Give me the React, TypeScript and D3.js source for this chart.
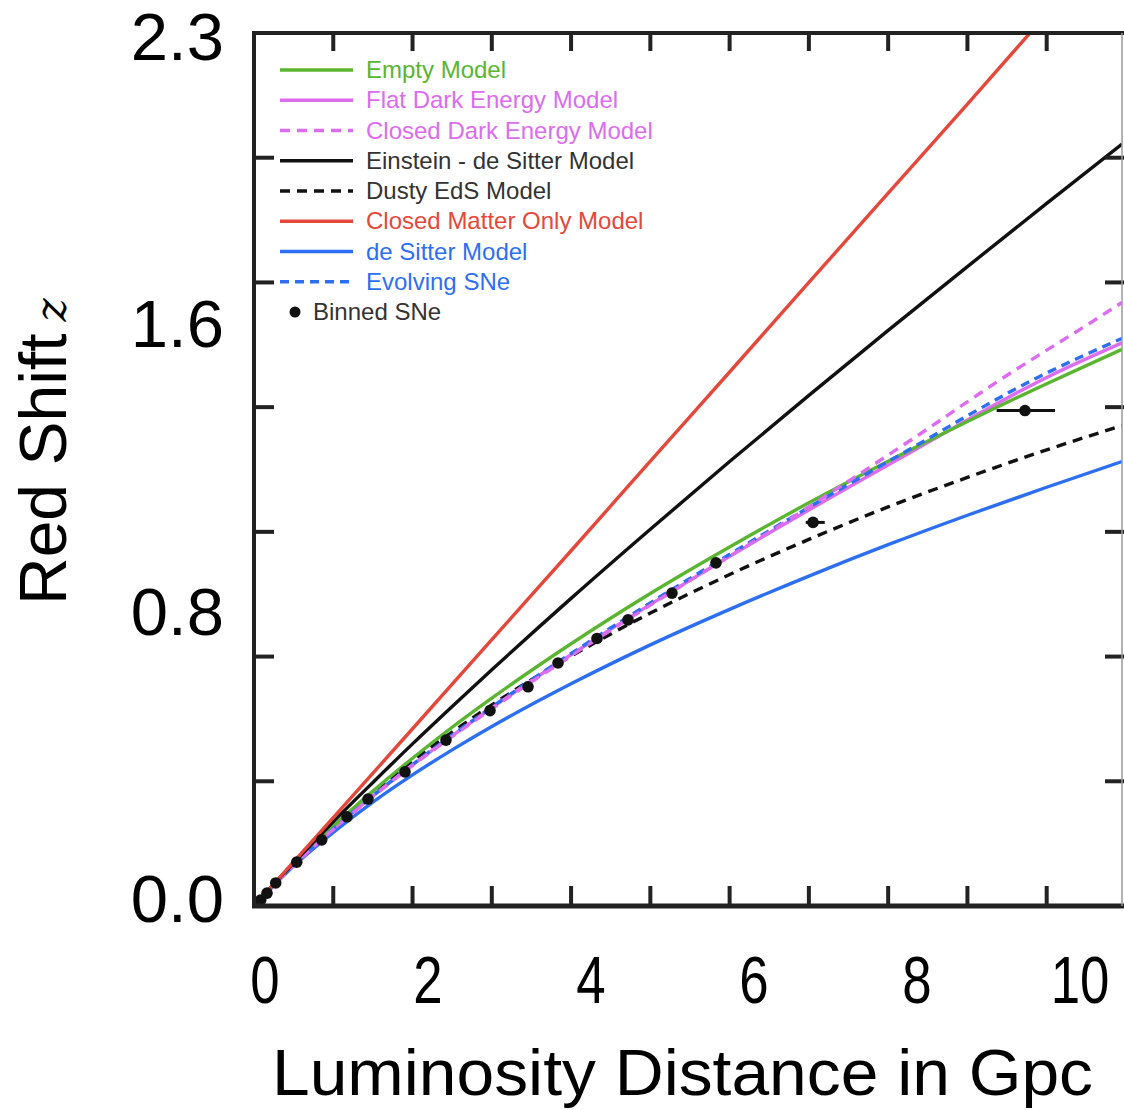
import React from "react";
import * as d3 from "d3";

// ---- data ----
// [luminosity distance in Gpc, red shift z]
const emptyModel: [number, number][] = [
  [0, 0], [0.5, 0.111], [1, 0.211], [1.5, 0.304], [2, 0.391], [2.5, 0.473], [3, 0.55],
  [4, 0.694], [5, 0.827], [6, 0.95], [7, 1.067], [8, 1.177], [9, 1.282], [10, 1.382], [10.95, 1.473],
];
const flatDarkEnergy: [number, number][] = [
  [0, 0], [0.46, 0.1], [0.98, 0.2], [1.552, 0.3], [2.169, 0.4], [2.832, 0.5], [3.528, 0.6],
  [4.259, 0.7], [5.017, 0.8], [5.799, 0.9], [6.606, 1.0], [8.279, 1.2], [10.013, 1.4], [10.95, 1.49],
];
const closedDarkEnergy: [number, number][] = [
  [0, 0], [0.462, 0.1], [0.985, 0.2], [1.56, 0.3], [2.18, 0.4], [2.85, 0.5], [3.55, 0.6],
  [4.28, 0.7], [5.03, 0.8], [5.8, 0.9], [6.58, 1.0], [7.52, 1.127], [8.43, 1.253], [9.41, 1.392],
  [10.67, 1.559], [10.95, 1.597],
];
const einsteinDeSitter: [number, number][] = [
  [0, 0], [0.5, 0.114], [1, 0.223], [1.5, 0.327], [2, 0.429], [2.5, 0.528], [3, 0.625],
  [4, 0.814], [5, 0.997], [6, 1.176], [7, 1.351], [8, 1.523], [9, 1.692], [10, 1.859], [10.95, 2.016],
];
const dustyEdS: [number, number][] = [
  [0, 0], [0.5, 0.11], [1, 0.21], [1.5, 0.3], [2, 0.384], [2.5, 0.46], [3, 0.532],
  [4, 0.661], [5, 0.775], [6, 0.877], [7, 0.97], [8, 1.056], [9, 1.134], [10, 1.207], [10.95, 1.271],
];
const closedMatterOnly: [number, number][] = [
  [0, 0], [1, 0.234], [2, 0.469], [3, 0.705], [4, 0.94], [5, 1.177], [6, 1.413],
  [7, 1.65], [8, 1.886], [9, 2.122], [10, 2.36],
];
const deSitter: [number, number][] = [
  [0, 0], [0.5, 0.106], [1, 0.195], [1.5, 0.275], [2, 0.347], [2.5, 0.413], [3, 0.475],
  [4, 0.588], [5, 0.691], [6, 0.785], [7, 0.873], [8, 0.956], [9, 1.034], [10, 1.108], [10.95, 1.176],
];
const evolvingSNe: [number, number][] = [
  [0, 0], [0.46, 0.1], [0.978, 0.2], [1.548, 0.3], [2.162, 0.4], [2.82, 0.5], [3.51, 0.6],
  [4.235, 0.7], [4.985, 0.8], [5.76, 0.9], [6.555, 1.0], [8.2, 1.2], [9.9, 1.4], [10.95, 1.502],
];
// binned SNe: distance, z, and optional horizontal error range
const binnedD = [0.025, 0.085, 0.164, 0.274, 0.539, 0.854, 1.173, 1.438, 1.905, 2.422, 2.977, 3.457, 3.835, 4.327, 4.718, 5.273, 5.828, 7.052, 9.726];
const binnedZ = [0.005, 0.016, 0.034, 0.061, 0.116, 0.175, 0.236, 0.283, 0.355, 0.439, 0.517, 0.58, 0.643, 0.708, 0.757, 0.828, 0.908, 1.015, 1.311];
const binnedErrLo = [null, null, null, null, null, null, null, null, null, null, null, null, null, null, 4.66, null, null, 6.96, 9.369];
const binnedErrHi = [null, null, null, null, null, null, null, null, null, null, null, null, null, null, 4.78, null, null, 7.2, 10.105];

const xTickValues = [1, 2, 3, 4, 5, 6, 7, 8, 9, 10];
const yTickValues = [0.33, 0.66, 0.99, 1.32, 1.65, 1.98];
const xTickLabels = ["0", "2", "4", "6", "8", "10"];
const yTickLabels = ["0.0", "0.8", "1.6", "2.3"];

const legendNames = [
  "Empty Model", "Flat Dark Energy Model", "Closed Dark Energy Model", "Einstein - de Sitter Model",
  "Dusty EdS Model", "Closed Matter Only Model", "de Sitter Model", "Evolving SNe", "Binned SNe",
];

// ---- styles ----
const GREEN = "#5bb531";
const MAGENTA = "#dc6cf0";
const RED = "#e5483a";
const BLUE = "#2d6ff2";
const BLACK = "#111";
const TEXT_DARK = "#333";

const series = [
  { name: "de Sitter Model", data: deSitter, color: BLUE, dash: null, text: BLUE },
  { name: "Dusty EdS Model", data: dustyEdS, color: BLACK, dash: "10,7", text: TEXT_DARK },
  { name: "Flat Dark Energy Model", data: flatDarkEnergy, color: MAGENTA, dash: null, text: MAGENTA },
  { name: "Empty Model", data: emptyModel, color: GREEN, dash: null, text: GREEN },
  { name: "Evolving SNe", data: evolvingSNe, color: BLUE, dash: "9,6", text: BLUE },
  { name: "Closed Dark Energy Model", data: closedDarkEnergy, color: MAGENTA, dash: "10,7", text: MAGENTA },
  { name: "Einstein - de Sitter Model", data: einsteinDeSitter, color: BLACK, dash: null, text: TEXT_DARK },
  { name: "Closed Matter Only Model", data: closedMatterOnly, color: RED, dash: null, text: RED },
];

const L = 254, R = 1122, T = 33, B = 906;

export default function App() {
  const x = d3.scaleLinear().domain([0, 10.95]).range([L, R]);
  const y = d3.scaleLinear().domain([0, 2.31]).range([B, T]);
  const xLab = d3.scalePoint<string>().domain(xTickLabels).range([265, 1080]);
  const yLab = d3.scalePoint<string>().domain(yTickLabels).range([922, 60]);
  const legendY = d3.scalePoint<string>().domain(legendNames).range([70, 312]);

  const line = d3
    .line<[number, number]>()
    .x((d) => x(d[0]))
    .y((d) => y(d[1]))
    .curve(d3.curveMonotoneX);

  const legendSeries = series
    .slice()
    .sort((a, b) => legendNames.indexOf(a.name) - legendNames.indexOf(b.name));

  return (
    <svg
      width={1124}
      height={1110}
      style={{ position: "absolute", left: 0, top: 0, background: "#fff" }}
      fontFamily="'Liberation Sans', Arial, sans-serif"
    >
      <defs>
        <clipPath id="plotClip">
          <rect x={L} y={T} width={R - L} height={B - T} />
        </clipPath>
      </defs>
      <rect x={0} y={0} width={1124} height={1110} fill="#fff" />

      {/* curves */}
      <g clipPath="url(#plotClip)" fill="none">
        {series.map((s) => (
          <path
            key={s.name}
            d={line(s.data) || ""}
            stroke={s.color}
            strokeWidth={3.4}
            strokeDasharray={s.dash || undefined}
          />
        ))}
        {/* binned SNe */}
        {binnedD.map((d, i) =>
          binnedErrLo[i] != null ? (
            <line
              key={"e" + i}
              x1={x(binnedErrLo[i] as number)}
              x2={x(binnedErrHi[i] as number)}
              y1={y(binnedZ[i])}
              y2={y(binnedZ[i])}
              stroke={BLACK}
              strokeWidth={3}
            />
          ) : null
        )}
        {binnedD.map((d, i) => (
          <circle key={"p" + i} cx={x(d)} cy={y(binnedZ[i])} r={5.8} fill={BLACK} />
        ))}
      </g>

      {/* ticks */}
      <g stroke="#222" strokeWidth={4}>
        {xTickValues.map((v) => (
          <g key={"xt" + v}>
            <line x1={x(v)} x2={x(v)} y1={B} y2={B - 20} />
            <line x1={x(v)} x2={x(v)} y1={T} y2={T + 18} />
          </g>
        ))}
        {yTickValues.map((v) => (
          <g key={"yt" + v}>
            <line x1={L} x2={L + 20} y1={y(v)} y2={y(v)} />
            <line x1={1124} x2={1105} y1={y(v)} y2={y(v)} />
          </g>
        ))}
      </g>

      {/* frame */}
      <line x1={L - 2} x2={1124} y1={T} y2={T} stroke="#222" strokeWidth={4} />
      <line x1={L} x2={L} y1={T - 2} y2={B + 2} stroke="#222" strokeWidth={4} />
      <line x1={L - 2} x2={1124} y1={B} y2={B} stroke="#222" strokeWidth={5} />
      <line x1={R} x2={R} y1={T} y2={B} stroke="#999" strokeWidth={1.5} />

      {/* legend */}
      <g>
        {legendSeries.map((s) => (
          <g key={"lg" + s.name}>
            <line
              x1={280}
              x2={353}
              y1={legendY(s.name)}
              y2={legendY(s.name)}
              stroke={s.color}
              strokeWidth={3.4}
              strokeDasharray={s.dash || undefined}
            />
            <text x={366} y={(legendY(s.name) as number) + 8} fontSize={24} fill={s.text}>
              {s.name}
            </text>
          </g>
        ))}
        <circle cx={295} cy={legendY("Binned SNe")} r={5.5} fill={BLACK} />
        <text x={313} y={(legendY("Binned SNe") as number) + 8} fontSize={24} fill={TEXT_DARK}>
          Binned SNe
        </text>
      </g>

      {/* tick labels */}
      {xTickLabels.map((t) => (
        <text
          key={"xl" + t}
          transform={`translate(${xLab(t)},1003) scale(0.8,1)`}
          fontSize={66}
          textAnchor="middle"
          fill="#000"
        >
          {t}
        </text>
      ))}
      {yTickLabels.map((t) => (
        <text key={"yl" + t} x={224} y={yLab(t)} fontSize={67} textAnchor="end" fill="#000">
          {t}
        </text>
      ))}

      {/* axis titles */}
      <text x={272} y={1095} fontSize={64} textLength={821} lengthAdjust="spacingAndGlyphs" fill="#000">
        Luminosity Distance in Gpc
      </text>
      <text transform="translate(66,605) rotate(-90)" fontSize={66} fill="#000">
        Red Shift
        <tspan dx={12} fontFamily="'DejaVu Serif', serif" fontStyle="italic" fontSize={44}>
          z
        </tspan>
      </text>
    </svg>
  );
}
